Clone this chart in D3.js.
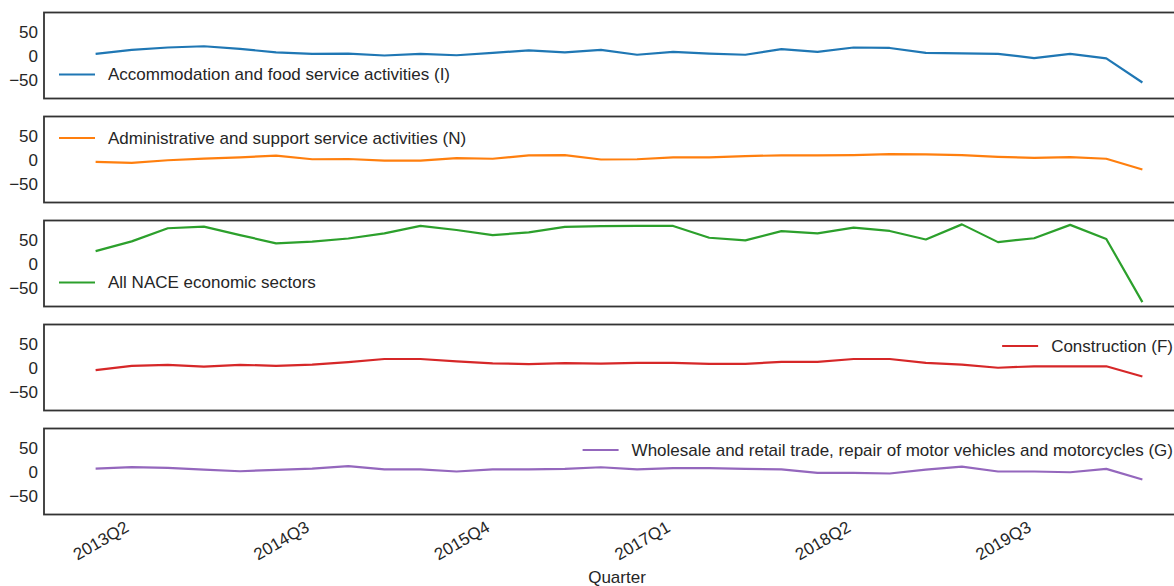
<!DOCTYPE html>
<html><head><meta charset="utf-8">
<script src="https://cdn.jsdelivr.net/npm/d3@7"></script>
<style>
body{margin:0;background:#fff}
svg{display:block}
text{font-family:"Liberation Sans",Arial,Helvetica,sans-serif;fill:#262626}
</style>
</head><body>
<svg id="c" width="1174" height="586"></svg>
<script>
const quarters = ["2013Q1","2013Q2","2013Q3","2013Q4","2014Q1","2014Q2","2014Q3","2014Q4",
  "2015Q1","2015Q2","2015Q3","2015Q4","2016Q1","2016Q2","2016Q3","2016Q4",
  "2017Q1","2017Q2","2017Q3","2017Q4","2018Q1","2018Q2","2018Q3","2018Q4",
  "2019Q1","2019Q2","2019Q3","2019Q4","2020Q1","2020Q2"];
const xTickLabels = ["2013Q2","2014Q3","2015Q4","2017Q1","2018Q2","2019Q3"];
const yTickValues = [50, 0, -50];
const xAxisTitle = "Quarter";

const accommodation = [5,13,18,20.5,15,8,5,5.5,1.5,5,2,7,12,8,13,3,9,5.5,3,14.5,9,18,17,7,6,5,-4,5,-4.5,-54];
const administrative = [-3.5,-5.5,0,3.5,6,9.5,2,2.5,-1,-1,4.5,3,10,10.5,1.5,2,6,6,8.5,10,10,10.5,12.5,12,10.5,7,5,6.5,3,-19];
const allNace = [27,47,74,77.5,60,43,46.5,53,63.5,79,70.5,60,65.5,77,78.5,78.8,78.8,54.5,49,68,63.5,75.5,68.5,51,82,45.5,53.5,81,52,-78];
const construction = [-4,5,7,3.5,7,5,7.5,12.5,19,19,14,10,8.5,10.5,9.5,11,11,9,9,13,13,19,19,11,7.5,1,4,4,4,-17];
const wholesale = [7.5,10.3,9,5.5,2,5,7.5,12.5,6,6,1.5,6,6,7,10.3,6,8.3,8.3,7,6,-1.3,-1.3,-2.6,5.5,11.5,1.5,1.5,0,7,-15];

const seriesNames = ["Accommodation and food service activities (I)",
  "Administrative and support service activities (N)",
  "All NACE economic sectors",
  "Construction (F)",
  "Wholesale and retail trade, repair of motor vehicles and motorcycles (G)"];
const seriesValues = [accommodation, administrative, allNace, construction, wholesale];
const seriesColors = ["#1f77b4","#ff7f0e","#2ca02c","#d62728","#9467bd"];
const legendPlacement = ["lower left","upper left","lower left","upper right","upper right"];

const svg = d3.select("#c");
const left = 44, right = 1194, firstTop = 12.5, panelH = 86, panelStep = 104;
const fontSize = 17;

const idx = q => quarters.indexOf(q);
const xl = d3.scaleLinear().domain([-1.43, quarters.length - 1 + 1.43]).range([left, right]);
const y = d3.scaleLinear().domain([-87, 90]).range([panelH, 0]);

seriesValues.forEach((vals, i) => {
  const g = svg.append("g").attr("transform", `translate(0,${firstTop + i*panelStep})`);
  const line = d3.line().x((d, j) => xl(j)).y(d => y(d));
  g.append("path").datum(vals).attr("d", line)
    .attr("fill","none").attr("stroke", seriesColors[i]).attr("stroke-width", 2.2)
    .attr("stroke-linejoin","round").attr("stroke-linecap","butt");
  const ya = d3.axisLeft(y).tickValues(yTickValues).tickSize(0).tickPadding(6)
    .tickFormat(d => d < 0 ? "\u2212" + Math.abs(d) : String(d));
  const yg = g.append("g").attr("transform", `translate(${left},0)`).call(ya);
  yg.select(".domain").remove();
  yg.selectAll("text").attr("font-size", fontSize).attr("fill","#262626")
    .style("font-family",'"Liberation Sans",Arial,sans-serif');
  g.append("rect").attr("x", left).attr("y", 0).attr("width", right-left).attr("height", panelH)
    .attr("fill","none").attr("stroke","#333333").attr("stroke-width", 1.8);
  const place = legendPlacement[i];
  const ly = place.startsWith("upper") ? 21.5 : 62;
  const lg = g.append("g");
  const t = lg.append("text").attr("font-size", fontSize).attr("dy","0.35em").attr("y", ly)
    .text(seriesNames[i]);
  let textStart;
  if (place.endsWith("left")) {
    textStart = 108;
  } else {
    const w = t.node().getComputedTextLength();
    textStart = 1173 - w;
  }
  t.attr("x", textStart);
  lg.append("line").attr("x1", textStart - 49).attr("x2", textStart - 13)
    .attr("y1", ly).attr("y2", ly).attr("stroke", seriesColors[i]).attr("stroke-width", 2.2);
});

const bottom = firstTop + 4*panelStep + panelH;
xTickLabels.forEach(q => {
  const px = xl(idx(q));
  svg.append("text").attr("font-size", fontSize).attr("text-anchor","end")
    .attr("transform", `translate(${px},${bottom + 19}) rotate(-30)`)
    .attr("y", -3.5).text(q);
});
svg.append("text").attr("font-size", fontSize).attr("text-anchor","middle")
  .attr("x", (left + right)/2 - 2).attr("y", 583).text(xAxisTitle);
</script>
</body></html>
